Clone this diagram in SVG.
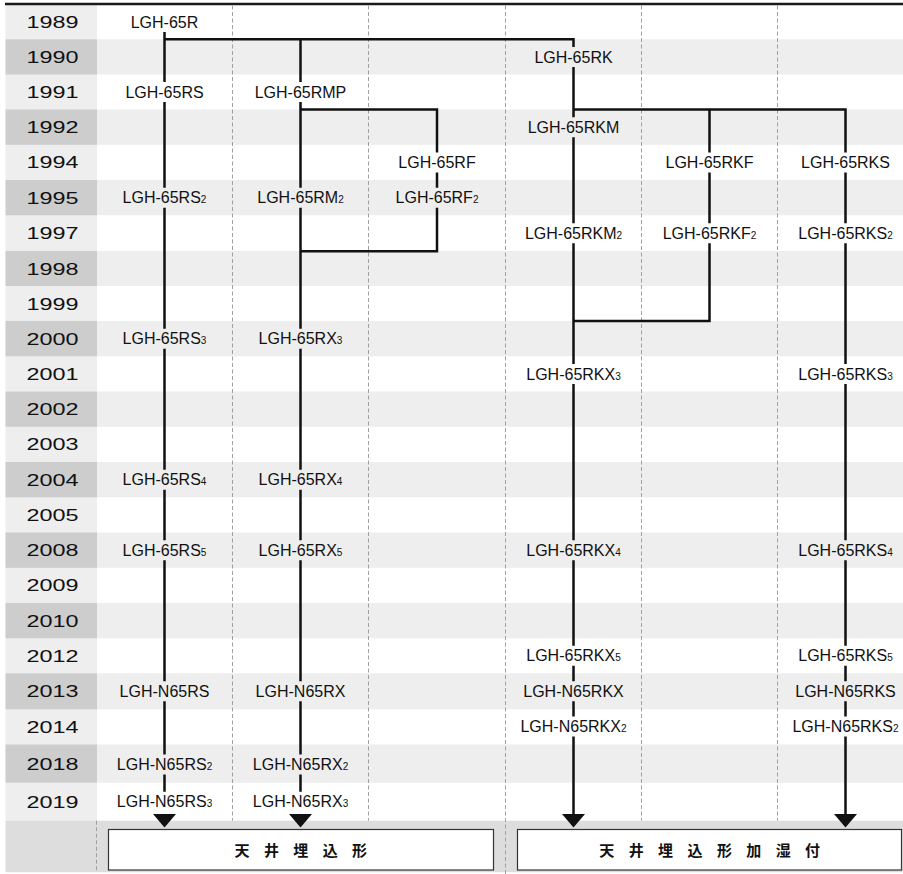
<svg xmlns="http://www.w3.org/2000/svg" width="903" height="874" viewBox="0 0 903 874">
<style>
.bgw{fill:#ffffff}
.bgl{fill:#eeeeee}
.bgd{fill:#cdcdcd}
.band{fill:#dddddd}
.dash{stroke:#a0a0a0;stroke-width:1;stroke-dasharray:4 2.5;fill:none}
.yr{font-family:"Liberation Sans",Arial,sans-serif;font-size:17px;fill:#111;text-anchor:middle}
.lb{font-family:"Liberation Sans",Arial,sans-serif;font-size:16px;fill:#111;text-anchor:middle}
.sub{font-size:10px}
.ln{stroke:#111;stroke-width:2.5;fill:none;stroke-linejoin:miter}
.arr{fill:#111}
.box{fill:#ffffff;stroke:#333;stroke-width:1.2}
.bt{font-family:"Noto Sans CJK JP","Noto Sans CJK SC",sans-serif;font-size:15px;font-weight:bold;fill:#111;text-anchor:middle}
</style>
<defs>
<polygon id="tri" points="-11.5,0 11.5,0 0,13.5"/>
</defs>
<rect x="0" y="0" width="903" height="874" fill="#ffffff"/>
<g id="background">
<rect class="bgl" x="5.5" y="5" width="91.5" height="815.7"/>
<rect class="bgd" x="5.5" y="39.3" width="91.5" height="35.2"/>
<rect class="bgd" x="5.5" y="109.5" width="91.5" height="35.3"/>
<rect class="bgd" x="5.5" y="180" width="91.5" height="35.3"/>
<rect class="bgd" x="5.5" y="251" width="91.5" height="35"/>
<rect class="bgd" x="5.5" y="321" width="91.5" height="35.3"/>
<rect class="bgd" x="5.5" y="391.5" width="91.5" height="35.3"/>
<rect class="bgd" x="5.5" y="462" width="91.5" height="35.3"/>
<rect class="bgd" x="5.5" y="532.5" width="91.5" height="35.3"/>
<rect class="bgd" x="5.5" y="603" width="91.5" height="35.3"/>
<rect class="bgd" x="5.5" y="673.3" width="91.5" height="36"/>
<rect class="bgd" x="5.5" y="744.5" width="91.5" height="38.2"/>
<rect class="bgl" x="97" y="39.3" width="806" height="35.2"/>
<rect class="bgl" x="97" y="109.5" width="806" height="35.3"/>
<rect class="bgl" x="97" y="180" width="806" height="35.3"/>
<rect class="bgl" x="97" y="251" width="806" height="35"/>
<rect class="bgl" x="97" y="321" width="806" height="35.3"/>
<rect class="bgl" x="97" y="391.5" width="806" height="35.3"/>
<rect class="bgl" x="97" y="462" width="806" height="35.3"/>
<rect class="bgl" x="97" y="532.5" width="806" height="35.3"/>
<rect class="bgl" x="97" y="603" width="806" height="35.3"/>
<rect class="bgl" x="97" y="673.3" width="806" height="36"/>
<rect class="bgl" x="97" y="744.5" width="806" height="38.2"/>
<rect class="band" x="5.5" y="820.7" width="897.5" height="51.5"/>
<line x1="5" y1="4" x2="903" y2="4" stroke="#1a1a1a" stroke-width="2.5"/>
<path class="dash" d="M232.5,5.5V820.7 M368.5,5.5V820.7 M505.5,5.5V874 M641.5,5.5V820.7 M777.5,5.5V820.7 M96.5,820.7V872"/>
</g>
<g id="years">
<text class="yr" x="52.5" y="28.1" textLength="52" lengthAdjust="spacingAndGlyphs">1989</text>
<text class="yr" x="52.5" y="62.9" textLength="52" lengthAdjust="spacingAndGlyphs">1990</text>
<text class="yr" x="52.5" y="98" textLength="52" lengthAdjust="spacingAndGlyphs">1991</text>
<text class="yr" x="52.5" y="133.2" textLength="52" lengthAdjust="spacingAndGlyphs">1992</text>
<text class="yr" x="52.5" y="168.4" textLength="52" lengthAdjust="spacingAndGlyphs">1994</text>
<text class="yr" x="52.5" y="203.7" textLength="52" lengthAdjust="spacingAndGlyphs">1995</text>
<text class="yr" x="52.5" y="239.2" textLength="52" lengthAdjust="spacingAndGlyphs">1997</text>
<text class="yr" x="52.5" y="274.5" textLength="52" lengthAdjust="spacingAndGlyphs">1998</text>
<text class="yr" x="52.5" y="309.5" textLength="52" lengthAdjust="spacingAndGlyphs">1999</text>
<text class="yr" x="52.5" y="344.7" textLength="52" lengthAdjust="spacingAndGlyphs">2000</text>
<text class="yr" x="52.5" y="379.9" textLength="52" lengthAdjust="spacingAndGlyphs">2001</text>
<text class="yr" x="52.5" y="415.2" textLength="52" lengthAdjust="spacingAndGlyphs">2002</text>
<text class="yr" x="52.5" y="450.4" textLength="52" lengthAdjust="spacingAndGlyphs">2003</text>
<text class="yr" x="52.5" y="485.7" textLength="52" lengthAdjust="spacingAndGlyphs">2004</text>
<text class="yr" x="52.5" y="520.9" textLength="52" lengthAdjust="spacingAndGlyphs">2005</text>
<text class="yr" x="52.5" y="556.2" textLength="52" lengthAdjust="spacingAndGlyphs">2008</text>
<text class="yr" x="52.5" y="591.4" textLength="52" lengthAdjust="spacingAndGlyphs">2009</text>
<text class="yr" x="52.5" y="626.7" textLength="52" lengthAdjust="spacingAndGlyphs">2010</text>
<text class="yr" x="52.5" y="661.8" textLength="52" lengthAdjust="spacingAndGlyphs">2012</text>
<text class="yr" x="52.5" y="697.3" textLength="52" lengthAdjust="spacingAndGlyphs">2013</text>
<text class="yr" x="52.5" y="732.5" textLength="52" lengthAdjust="spacingAndGlyphs">2014</text>
<text class="yr" x="52.5" y="770.4" textLength="52" lengthAdjust="spacingAndGlyphs">2018</text>
<text class="yr" x="52.5" y="807.7" textLength="52" lengthAdjust="spacingAndGlyphs">2019</text>
</g>
<g id="connectors">
<path class="ln" d="M164.5,32.1V82 M164.5,102V187.7 M164.5,207.7V328.7 M164.5,348.7V469.7 M164.5,489.7V540.2 M164.5,560.2V681.3 M164.5,701.3V754.4 M164.5,774.4V791.7"/>
<path class="ln" d="M164.5,39.3H573.5V46.9 M300.5,39.3V82"/>
<path class="ln" d="M300.5,102V187.7 M300.5,207.7V328.7 M300.5,348.7V469.7 M300.5,489.7V540.2 M300.5,560.2V681.3 M300.5,701.3V754.4 M300.5,774.4V791.7"/>
<path class="ln" d="M300.5,109.5H437V152.4 M437,172.4V187.7 M437,207.7V251.2H300.5"/>
<path class="ln" d="M573.5,66.9V117.2 M573.5,137.2V223.2 M573.5,243.2V363.9 M573.5,383.9V540.2 M573.5,560.2V645.8 M573.5,665.8V681.3 M573.5,701.3V716.5 M573.5,736.5V816"/>
<path class="ln" d="M573.5,109.5H845.5V152.4 M709.5,109.5V152.4 M709.5,172.4V223.2 M709.5,243.2V321H573.5"/>
<path class="ln" d="M845.5,172.4V223.2 M845.5,243.2V363.9 M845.5,383.9V540.2 M845.5,560.2V645.8 M845.5,665.8V681.3 M845.5,701.3V716.5 M845.5,736.5V816"/>
<use href="#tri" class="arr" x="164.5" y="814"/>
<use href="#tri" class="arr" x="300.5" y="814"/>
<use href="#tri" class="arr" x="573.5" y="814"/>
<use href="#tri" class="arr" x="845.5" y="814"/>
</g>
<g id="n-65R"><text class="lb" x="164.5" y="27.8">LGH-65R</text></g>
<g id="n-65RS"><text class="lb" x="164.5" y="97.6">LGH-65RS</text></g>
<g id="n-65RS2"><text class="lb" x="164.5" y="203.3">LGH-65RS<tspan class="sub">2</tspan></text></g>
<g id="n-65RS3"><text class="lb" x="164.5" y="344.3">LGH-65RS<tspan class="sub">3</tspan></text></g>
<g id="n-65RS4"><text class="lb" x="164.5" y="485.3">LGH-65RS<tspan class="sub">4</tspan></text></g>
<g id="n-65RS5"><text class="lb" x="164.5" y="555.8">LGH-65RS<tspan class="sub">5</tspan></text></g>
<g id="n-N65RS"><text class="lb" x="164.5" y="696.9">LGH-N65RS</text></g>
<g id="n-N65RS2"><text class="lb" x="164.5" y="770">LGH-N65RS<tspan class="sub">2</tspan></text></g>
<g id="n-N65RS3"><text class="lb" x="164.5" y="807.3">LGH-N65RS<tspan class="sub">3</tspan></text></g>
<g id="n-65RMP"><text class="lb" x="300.5" y="97.6">LGH-65RMP</text></g>
<g id="n-65RM2"><text class="lb" x="300.5" y="203.3">LGH-65RM<tspan class="sub">2</tspan></text></g>
<g id="n-65RX3"><text class="lb" x="300.5" y="344.3">LGH-65RX<tspan class="sub">3</tspan></text></g>
<g id="n-65RX4"><text class="lb" x="300.5" y="485.3">LGH-65RX<tspan class="sub">4</tspan></text></g>
<g id="n-65RX5"><text class="lb" x="300.5" y="555.8">LGH-65RX<tspan class="sub">5</tspan></text></g>
<g id="n-N65RX"><text class="lb" x="300.5" y="696.9">LGH-N65RX</text></g>
<g id="n-N65RX2"><text class="lb" x="300.5" y="770">LGH-N65RX<tspan class="sub">2</tspan></text></g>
<g id="n-N65RX3"><text class="lb" x="300.5" y="807.3">LGH-N65RX<tspan class="sub">3</tspan></text></g>
<g id="n-65RF"><text class="lb" x="437" y="168">LGH-65RF</text></g>
<g id="n-65RF2"><text class="lb" x="437" y="203.3">LGH-65RF<tspan class="sub">2</tspan></text></g>
<g id="n-65RK"><text class="lb" x="573.5" y="62.5">LGH-65RK</text></g>
<g id="n-65RKM"><text class="lb" x="573.5" y="132.8">LGH-65RKM</text></g>
<g id="n-65RKM2"><text class="lb" x="573.5" y="238.8">LGH-65RKM<tspan class="sub">2</tspan></text></g>
<g id="n-65RKX3"><text class="lb" x="573.5" y="379.5">LGH-65RKX<tspan class="sub">3</tspan></text></g>
<g id="n-65RKX4"><text class="lb" x="573.5" y="555.8">LGH-65RKX<tspan class="sub">4</tspan></text></g>
<g id="n-65RKX5"><text class="lb" x="573.5" y="661.4">LGH-65RKX<tspan class="sub">5</tspan></text></g>
<g id="n-N65RKX"><text class="lb" x="573.5" y="696.9">LGH-N65RKX</text></g>
<g id="n-N65RKX2"><text class="lb" x="573.5" y="732.1">LGH-N65RKX<tspan class="sub">2</tspan></text></g>
<g id="n-65RKF"><text class="lb" x="709.5" y="168">LGH-65RKF</text></g>
<g id="n-65RKF2"><text class="lb" x="709.5" y="238.8">LGH-65RKF<tspan class="sub">2</tspan></text></g>
<g id="n-65RKS"><text class="lb" x="845.5" y="168">LGH-65RKS</text></g>
<g id="n-65RKS2"><text class="lb" x="845.5" y="238.8">LGH-65RKS<tspan class="sub">2</tspan></text></g>
<g id="n-65RKS3"><text class="lb" x="845.5" y="379.5">LGH-65RKS<tspan class="sub">3</tspan></text></g>
<g id="n-65RKS4"><text class="lb" x="845.5" y="555.8">LGH-65RKS<tspan class="sub">4</tspan></text></g>
<g id="n-65RKS5"><text class="lb" x="845.5" y="661.4">LGH-65RKS<tspan class="sub">5</tspan></text></g>
<g id="n-N65RKS"><text class="lb" x="845.5" y="696.9">LGH-N65RKS</text></g>
<g id="n-N65RKS2"><text class="lb" x="845.5" y="732.1">LGH-N65RKS<tspan class="sub">2</tspan></text></g>
<g id="box-ceiling">
<rect class="box" x="108.5" y="829.5" width="385" height="40.5"/>
<text class="bt" x="242 271.4 300.8 330.2 359.6" y="856">天井埋込形</text>
</g>
<g id="box-ceiling-humid">
<rect class="box" x="517.5" y="829.5" width="384" height="40.5"/>
<text class="bt" x="606.8 636.2 665.6 695 724.4 753.8 783.2 812.6" y="856">天井埋込形加湿付</text>
</g>
</svg>
